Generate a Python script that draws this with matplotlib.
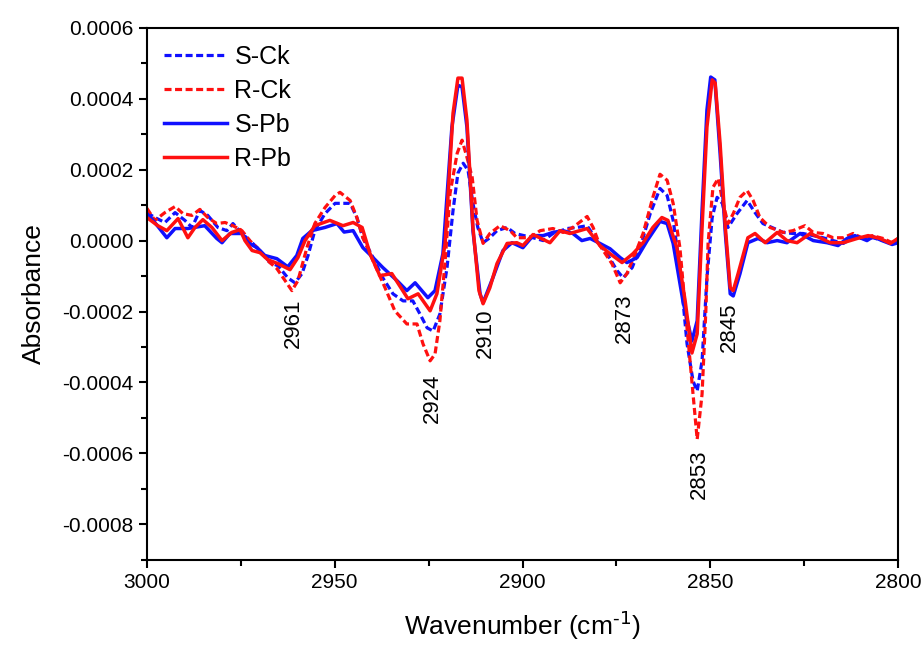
import numpy as np
import matplotlib
matplotlib.use("Agg")
import matplotlib.pyplot as plt
from matplotlib.ticker import MultipleLocator, FormatStrFormatter

plt.rcParams['font.family'] = ['Liberation Sans', 'DejaVu Sans']
plt.rcParams['axes.unicode_minus'] = False

# absorbance values read in units of 1e-4
wn_sck = [3000, 2997.9, 2995.2, 2992.5, 2989.9, 2988.0, 2985.9, 2983.8, 2981.1, 2978.7,
          2977.1, 2974.7, 2972.0, 2969.9, 2967.2, 2965.1, 2962.5, 2960.6, 2958.7, 2957.1,
          2955.3, 2952.6, 2949.9, 2945.9, 2944.1, 2942.5, 2939.8, 2937.2, 2934.5, 2931.8,
          2929.2, 2927.3, 2925.4, 2923.8, 2922.0, 2920.1, 2918.5, 2917.2, 2915.8, 2914.5,
          2913.2, 2911.9, 2910.5, 2908.7, 2906.8, 2904.1, 2902.0, 2897.2, 2894.5, 2891.9,
          2888.1, 2885.5, 2882.8, 2880.2, 2877.5, 2874.8, 2873.2, 2870.8, 2868.7, 2866.0,
          2863.4, 2861.5, 2859.9, 2858.1, 2856.2, 2854.6, 2853.5, 2852.2, 2850.9, 2849.5,
          2848.2, 2846.8, 2845.3, 2842.9, 2840.2, 2838.1, 2836.0, 2833.6, 2830.6, 2828.0,
          2825.3, 2822.6, 2820.0, 2817.3, 2814.6, 2812.0, 2809.3, 2806.7, 2804.0, 2801.3, 2800]
ab_sck = [0.79, 0.65, 0.51, 0.79, 0.57, 0.37, 0.85, 0.71, 0.37, 0.28,
          0.48, 0.20, -0.06, -0.28, -0.62, -0.71, -1.05, -1.19, -0.93, -0.42,
          0.28, 0.76, 1.05, 1.05, 0.65, 0.08, -0.48, -1.05, -1.50, -1.70,
          -1.70, -2.07, -2.46, -2.55, -2.07, -0.76, 0.85, 1.90, 2.18, 1.98,
          1.05, 0.37, -0.06, 0.08, 0.28, 0.37, 0.20, 0.08, 0.0, 0.20,
          0.34, 0.37, 0.42, 0.0, -0.37, -0.85, -1.05, -0.76, -0.20, 0.76,
          1.47, 1.27, 0.57, -0.76, -2.91, -3.96, -4.24, -3.39, -1.05, 0.65,
          1.22, 1.05, 0.37, 0.76, 1.13, 0.79, 0.48, 0.37, 0.23, 0.20,
          0.20, 0.14, 0.08, 0.0, -0.08, 0.08, 0.06, 0.08, 0.0, -0.08, 0.0]

wn_rck = [3000, 2997.9, 2995.2, 2992.5, 2990.4, 2988.0, 2985.9, 2983.8, 2981.4, 2979.2,
          2977.1, 2974.7, 2972.6, 2969.9, 2967.8, 2965.4, 2963.2, 2961.4, 2959.8, 2957.4,
          2955.3, 2952.6, 2949.9, 2948.6, 2945.9, 2944.1, 2942.5, 2939.8, 2936.6, 2934.0,
          2930.8, 2928.1, 2926.5, 2924.6, 2923.3, 2922.0, 2920.6, 2919.3, 2917.4, 2916.1,
          2914.8, 2913.4, 2912.1, 2910.5, 2908.7, 2906.0, 2903.3, 2901.5, 2898.0, 2895.3,
          2891.9, 2889.2, 2886.6, 2882.8, 2881.2, 2879.4, 2876.2, 2874.0, 2872.2, 2870.0,
          2867.9, 2865.3, 2863.4, 2861.5, 2859.9, 2858.1, 2856.2, 2854.6, 2853.5, 2852.2,
          2851.2, 2850.6, 2849.3, 2847.9, 2846.6, 2845.3, 2843.9, 2842.1, 2840.2, 2838.6,
          2836.8, 2834.1, 2830.6, 2828.0, 2824.8, 2822.6, 2820.0, 2817.3, 2814.6, 2812.0,
          2809.3, 2806.9, 2804.0, 2801.6, 2800]
ab_rck = [0.91, 0.57, 0.79, 0.96, 0.76, 0.71, 0.88, 0.65, 0.48, 0.51,
          0.42, 0.28, 0.0, -0.28, -0.57, -0.79, -1.13, -1.41, -1.13, -0.20,
          0.48, 0.93, 1.27, 1.36, 1.13, 0.65, 0.08, -0.57, -1.33, -1.98,
          -2.35, -2.35, -2.91, -3.39, -3.20, -2.26, -0.57, 1.33, 2.46, 2.83,
          2.35, 1.78, 0.57, -0.08, 0.20, 0.42, 0.28, 0.08, 0.08, 0.28,
          0.34, 0.23, 0.37, 0.68, 0.37, -0.14, -0.65, -1.19, -0.93, -0.37,
          0.20, 1.22, 1.87, 1.70, 1.05, -0.20, -2.46, -4.33, -5.60, -4.33,
          -2.00, -0.08, 1.50, 1.75, 1.05, 0.48, 0.76, 1.22, 1.41, 1.13,
          0.65, 0.37, 0.23, 0.28, 0.42, 0.23, 0.20, 0.08, 0.08, 0.20,
          0.06, 0.14, 0.06, -0.06, 0.06]

wn_spb = [3000, 2997.9, 2994.7, 2992.5, 2989.1, 2984.6, 2981.4, 2980.0, 2977.9, 2974.7,
          2973.1, 2970.7, 2968.6, 2965.4, 2962.5, 2960.1, 2958.5, 2956.1, 2952.6, 2949.4,
          2947.5, 2945.1, 2942.5, 2939.8, 2937.2, 2933.4, 2930.8, 2928.6, 2925.2, 2923.3,
          2921.2, 2918.8, 2917.2, 2916.1, 2914.8, 2913.2, 2911.3, 2910.5, 2907.9, 2905.2,
          2902.8, 2899.9, 2897.2, 2894.5, 2891.9, 2889.2, 2886.6, 2884.2, 2882.0, 2879.4,
          2876.7, 2874.0, 2872.2, 2869.5, 2866.8, 2863.4, 2861.5, 2859.9, 2857.3, 2854.9,
          2853.5, 2852.2, 2850.9, 2849.9, 2848.8, 2847.4, 2846.0, 2844.7, 2843.9, 2842.1,
          2840.0, 2837.3, 2834.9, 2832.2, 2829.6, 2826.1, 2822.6, 2818.9, 2816.0, 2813.6,
          2811.5, 2808.3, 2806.7, 2804.3, 2801.6, 2800]
ab_spb = [0.76, 0.51, 0.08, 0.34, 0.34, 0.42, 0.06, -0.06, 0.20, 0.20,
          -0.06, -0.20, -0.42, -0.51, -0.74, -0.42, 0.06, 0.28, 0.37, 0.48,
          0.24, 0.28, -0.20, -0.48, -0.76, -1.13, -1.41, -1.19, -1.61, -1.41,
          -0.37, 3.20, 4.38, 4.33, 3.20, 0.28, -1.50, -1.75, -1.05, -0.28,
          -0.06, -0.20, 0.14, 0.14, 0.23, 0.28, 0.20, 0.0, 0.06, -0.08,
          -0.23, -0.48, -0.62, -0.48, 0.0, 0.54, 0.48, -0.08, -1.70, -2.83,
          -2.26, 0.85, 3.68, 4.61, 4.53, 2.46, 0.20, -1.50, -1.56, -0.93,
          -0.06, 0.06, -0.06, 0.0, -0.06, 0.20, 0.0, -0.06, -0.14, 0.06,
          0.14, 0.0, 0.11, 0.0, -0.11, -0.06]

wn_rpb = [3000, 2997.1, 2994.7, 2991.7, 2989.1, 2987.2, 2985.1, 2982.7, 2980.0, 2977.4,
          2975.2, 2973.9, 2972.0, 2969.9, 2967.8, 2965.1, 2961.9, 2959.8, 2957.9, 2955.3,
          2951.3, 2947.8, 2945.1, 2942.7, 2940.6, 2938.0, 2934.8, 2930.5, 2927.8, 2924.6,
          2922.8, 2920.6, 2918.5, 2917.2, 2916.1, 2914.8, 2913.2, 2911.6, 2910.5, 2908.7,
          2906.8, 2904.1, 2901.5, 2899.9, 2897.2, 2892.7, 2890.0, 2887.4, 2882.8, 2879.4,
          2876.7, 2873.5, 2870.6, 2867.9, 2865.3, 2862.9, 2861.3, 2858.9, 2856.7, 2854.9,
          2853.5, 2852.2, 2850.9, 2849.5, 2848.7, 2847.4, 2846.0, 2844.7, 2843.9, 2842.6,
          2840.0, 2838.1, 2835.4, 2832.2, 2829.6, 2826.9, 2823.4, 2820.8, 2818.1, 2814.6,
          2810.9, 2808.0, 2804.8, 2802.1, 2800]
ab_rpb = [0.65, 0.42, 0.28, 0.62, 0.08, 0.37, 0.59, 0.37, 0.0, 0.23,
          0.31, 0.0, -0.28, -0.34, -0.54, -0.65, -0.82, -0.48, 0.0, 0.42,
          0.57, 0.42, 0.51, 0.37, -0.37, -0.99, -0.93, -1.64, -1.50, -1.98,
          -1.50, -0.08, 3.59, 4.58, 4.58, 3.39, 0.37, -1.41, -1.78, -1.33,
          -0.65, -0.08, -0.06, -0.14, 0.17, -0.06, 0.28, 0.20, 0.34, -0.14,
          -0.37, -0.62, -0.37, -0.06, 0.37, 0.65, 0.57, -0.20, -1.70, -3.17,
          -2.63, 0.37, 3.20, 4.53, 4.44, 2.74, 0.37, -1.33, -1.41, -0.93,
          0.08, 0.20, -0.06, 0.23, 0.0, -0.06, 0.20, 0.08, -0.06, -0.06,
          0.06, 0.14, 0.06, -0.08, 0.06]

peak_pos = [2961, 2924, 2910, 2873, 2853, 2845]
peak_lab_y = [-2.32, -4.44, -2.6, -2.2, -6.6, -2.43]

scale = 1e-4

fig = plt.figure(figsize=(9.24, 6.45), dpi=100)
ax = fig.add_axes([0.159, 0.132, 0.813, 0.825])

ax.plot(wn_sck, np.array(ab_sck) * scale, color='#1010ff', lw=2.3, dashes=(2.2, 1.1), label='S-Ck')
ax.plot(wn_rck, np.array(ab_rck) * scale, color='#ff1010', lw=2.3, dashes=(2.2, 1.1), label='R-Ck')
ax.plot(wn_spb, np.array(ab_spb) * scale, color='#1010ff', lw=2.5, label='S-Pb')
ax.plot(wn_rpb, np.array(ab_rpb) * scale, color='#ff1010', lw=2.5, label='R-Pb')

for p, yl in zip(peak_pos, peak_lab_y):
    ax.text(p, yl * scale, str(p), rotation=90, ha='center', va='center', fontsize=16)

ax.set_xlim(3000, 2800)
ax.set_ylim(-0.0009, 0.0006)
ax.xaxis.set_major_locator(MultipleLocator(50))
ax.xaxis.set_minor_locator(MultipleLocator(25))
ax.yaxis.set_major_locator(MultipleLocator(0.0002))
ax.yaxis.set_minor_locator(MultipleLocator(0.0001))
ax.yaxis.set_major_formatter(FormatStrFormatter('%.4f'))
ax.tick_params(which='both', direction='out', width=1.5, labelsize=15, top=False, right=False)
ax.tick_params(which='major', length=6)
ax.tick_params(which='minor', length=4)
for s in ax.spines.values():
    s.set_linewidth(1.5)

ax.set_xlabel('Wavenumber (cm$^{\\text{-1}}$)', fontsize=19, labelpad=12)
ax.set_ylabel('Absorbance', fontsize=19, labelpad=12)

ax.legend(loc='upper left', frameon=False, fontsize=18, handlelength=2.5,
          handletextpad=0.3, labelspacing=0.4, borderaxespad=0.3)

fig.savefig('out.png', dpi=100)
